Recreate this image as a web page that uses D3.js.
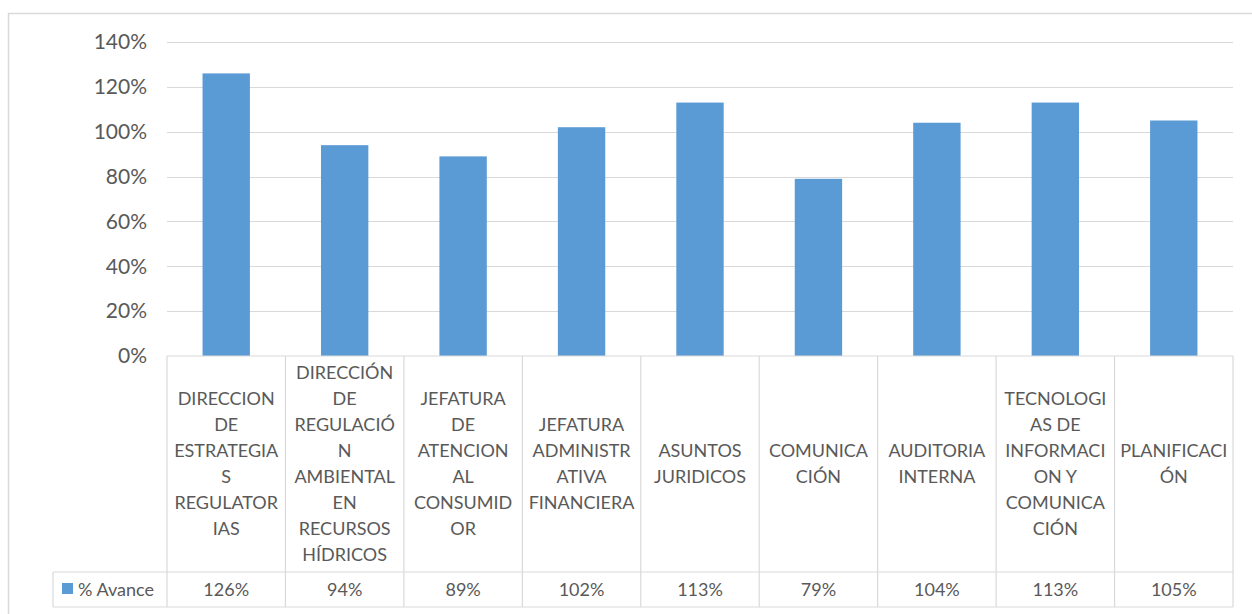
<!DOCTYPE html>
<html>
<head>
<meta charset="utf-8">
<script src="https://cdn.jsdelivr.net/npm/d3@7"></script>
<style>
  body { margin: 0; background: #fff; }
  svg text { font-family: Lato, "Open Sans", sans-serif; fill: #595959; }
</style>
</head>
<body>
<div id="chart"></div>
<script>
// category labels, already wrapped like the original table
var categories = [
  ["DIRECCION", "DE", "ESTRATEGIA", "S", "REGULATOR", "IAS"],
  ["DIRECCIÓN", "DE", "REGULACIÓ", "N", "AMBIENTAL", "EN", "RECURSOS", "HÍDRICOS"],
  ["JEFATURA", "DE", "ATENCION", "AL", "CONSUMID", "OR"],
  ["JEFATURA", "ADMINISTR", "ATIVA", "FINANCIERA"],
  ["ASUNTOS", "JURIDICOS"],
  ["COMUNICA", "CIÓN"],
  ["AUDITORIA", "INTERNA"],
  ["TECNOLOGI", "AS DE", "INFORMACI", "ON Y", "COMUNICA", "CIÓN"],
  ["PLANIFICACI", "ÓN"]
];
var avance = [1.26, 0.94, 0.89, 1.02, 1.13, 0.79, 1.04, 1.13, 1.05];
var yTicks = [0, 0.2, 0.4, 0.6, 0.8, 1.0, 1.2, 1.4];
var seriesName = "% Avance";

var W = 1252, H = 614;
var svg = d3.select("#chart").append("svg").attr("width", W).attr("height", H);

// chart frame
svg.append("rect").attr("x", 8.5).attr("y", 13.5).attr("width", 1300).attr("height", 700)
  .attr("fill", "none").attr("stroke", "#d9d9d9").attr("stroke-width", 1.5);

var plotLeft = 167, plotRight = 1233, plotTop = 42, base = 356;
var catRowBottom = 572, valRowBottom = 607, legendLeft = 53;

var x = d3.scaleBand().domain(d3.range(categories.length)).range([plotLeft, plotRight]).paddingInner(0).paddingOuter(0);
var y = d3.scaleLinear().domain([0, 1.4]).range([base, plotTop]);

// gridlines
svg.append("g").selectAll("line").data(yTicks.slice(1)).join("line")
  .attr("x1", plotLeft).attr("x2", plotRight)
  .attr("y1", d => Math.round(y(d)) + 0.5).attr("y2", d => Math.round(y(d)) + 0.5)
  .attr("stroke", "#d9d9d9").attr("stroke-width", 1.2);

// y axis labels
svg.append("g").selectAll("text").data(yTicks).join("text")
  .attr("x", 147).attr("y", d => y(d)).attr("dy", "0.35em")
  .attr("text-anchor", "end").style("font-size", "21px")
  .text(d => d3.format(".0%")(d));

// bars
var bw = x.bandwidth() * 0.4;
svg.append("g").selectAll("rect").data(avance).join("rect")
  .attr("x", (d, i) => x(i) + (x.bandwidth() - bw) / 2)
  .attr("y", d => y(d))
  .attr("width", bw)
  .attr("height", d => base - y(d))
  .attr("fill", "#5b9bd5");

// data table lines
var tbl = svg.append("g").attr("stroke", "#d9d9d9").attr("stroke-width", 1.2);
tbl.append("line").attr("x1", plotLeft).attr("x2", plotRight).attr("y1", base).attr("y2", base);
tbl.append("line").attr("x1", legendLeft).attr("x2", plotRight).attr("y1", catRowBottom).attr("y2", catRowBottom);
tbl.append("line").attr("x1", legendLeft).attr("x2", plotRight).attr("y1", valRowBottom).attr("y2", valRowBottom);
tbl.append("line").attr("x1", legendLeft).attr("x2", legendLeft).attr("y1", catRowBottom).attr("y2", valRowBottom);
tbl.selectAll("line.col").data(d3.range(categories.length + 1)).join("line")
  .attr("class", "col")
  .attr("x1", i => i < categories.length ? x(i) : plotRight)
  .attr("x2", i => i < categories.length ? x(i) : plotRight)
  .attr("y1", base).attr("y2", valRowBottom);

// category labels
var lh = 26;
var cat = svg.append("g").selectAll("text").data(categories).join("text")
  .attr("text-anchor", "middle").style("font-size", "18px")
  .attr("transform", (d, i) => {
    var cy = (base + catRowBottom) / 2 - (d.length - 1) * lh / 2;
    return "translate(" + (x(i) + x.bandwidth() / 2) + "," + cy + ")";
  });
cat.selectAll("tspan").data(d => d).join("tspan")
  .attr("x", 0).attr("y", (d, j) => j * lh).attr("dy", "0.35em")
  .text(d => d);

// values row
svg.append("g").selectAll("text").data(avance).join("text")
  .attr("x", (d, i) => x(i) + x.bandwidth() / 2).attr("y", (catRowBottom + valRowBottom) / 2)
  .attr("dy", "0.35em").attr("text-anchor", "middle").style("font-size", "18px")
  .text(d => d3.format(".0%")(d));

// legend key
svg.append("rect").attr("x", 62).attr("y", 583).attr("width", 11).attr("height", 11).attr("fill", "#5b9bd5");
svg.append("text").attr("x", 78).attr("y", (catRowBottom + valRowBottom) / 2).attr("dy", "0.35em")
  .style("font-size", "18px").text(seriesName);
</script>
</body>
</html>
